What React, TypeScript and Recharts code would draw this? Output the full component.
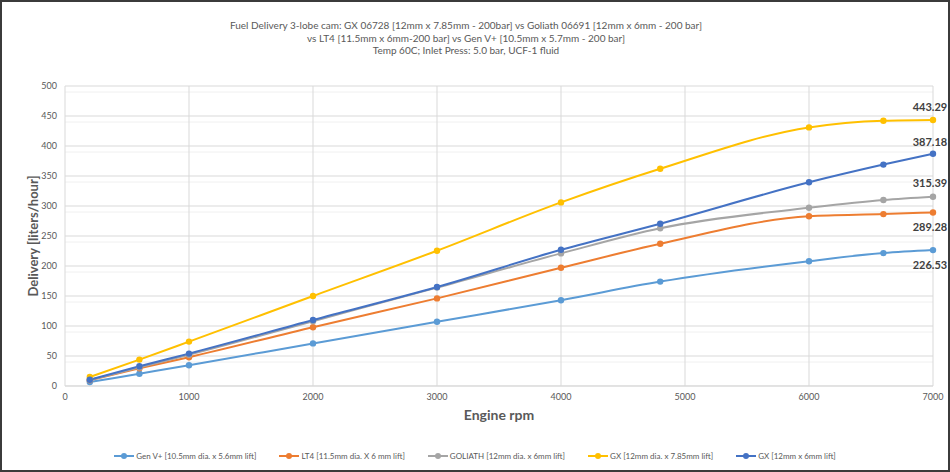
import React from 'react';
import { LineChart, Line, XAxis, YAxis, CartesianGrid } from 'recharts';

const rpm = [200, 600, 1000, 2000, 3000, 4000, 4800, 6000, 6600, 7000];
const genV = [6.5, 20.5, 34.5, 71, 107, 143, 174, 208, 221.5, 226.53];
const lt4 = [9.5, 29.5, 48, 98, 146, 197, 237, 283, 286.5, 289.28];
const goliath = [10, 31, 52, 108, 164, 221, 263, 297, 310, 315.39];
const gx785 = [15, 44, 74, 150, 225.5, 306, 362, 431, 442, 443.29];
const gx6 = [10.5, 33, 54, 110, 165, 227, 270.5, 339.5, 369, 387.18];

const xTicks = [0, 1000, 2000, 3000, 4000, 5000, 6000, 7000];
const yTicks = [0, 50, 100, 150, 200, 250, 300, 350, 400, 450, 500];
const minorY = Array.from({ length: 49 }, (_, i) => (i + 1) * 10).filter((v) => v % 50 !== 0);

const titleLines = [
  'Fuel Delivery 3-lobe cam: GX 06728 [12mm x 7.85mm - 200bar] vs Goliath 06691 [12mm x 6mm - 200 bar]',
  'vs LT4 [11.5mm x 6mm-200 bar] vs Gen V+ [10.5mm x 5.7mm - 200 bar]',
  'Temp 60C; Inlet Press: 5.0 bar, UCF-1 fluid',
];

const series = [
  { key: 'genV', name: 'Gen V+ [10.5mm dia. x 5.6mm lift]', color: '#5B9BD5', values: genV, labelDy: 14 },
  { key: 'lt4', name: 'LT4 [11.5mm dia. X 6 mm lift]', color: '#ED7D31', values: lt4, labelDy: 14 },
  { key: 'goliath', name: 'GOLIATH [12mm dia. x 6mm lift]', color: '#A5A5A5', values: goliath, labelDy: -14 },
  { key: 'gx785', name: 'GX [12mm dia. x 7.85mm lift]', color: '#FFC000', values: gx785, labelDy: -14 },
  { key: 'gx6', name: 'GX [12mm x 6mm lift]', color: '#4472C4', values: gx6, labelDy: -12 },
];

const data = rpm.map((r, i) => {
  const row: Record<string, number> = { rpm: r };
  series.forEach((s) => {
    row[s.key] = s.values[i];
  });
  return row;
});

const FONT = 'Lato, "Open Sans", sans-serif';

const makeLabel = (dy: number) => (props: any) => {
  const { x, y, index, value } = props;
  if (index !== rpm.length - 1) return null;
  return (
    <text
      x={x - 3}
      y={y + dy}
      textAnchor="middle"
      dominantBaseline="central"
      fontFamily={FONT}
      fontWeight={700}
      fontSize={11}
      fill="#404040"
    >
      {Number(value).toFixed(2)}
    </text>
  );
};

export default function App() {
  return (
    <div style={{ position: 'absolute', left: 0, top: 0, width: 950, height: 472, background: '#fff', fontFamily: FONT }}>
      <div
        style={{
          position: 'absolute',
          left: 0,
          top: 19,
          width: 932,
          textAlign: 'center',
          fontSize: 10,
          lineHeight: '12.5px',
          color: '#595959',
        }}
      >
        {titleLines.map((t) => (
          <div key={t}>{t}</div>
        ))}
      </div>
      <LineChart width={950} height={472} data={data} margin={{ top: 86, right: 17, bottom: 62, left: 0 }}>
        <CartesianGrid horizontalValues={minorY} vertical={false} stroke="#f0f0f0" strokeWidth={1} />
        <CartesianGrid stroke="#d9d9d9" strokeWidth={1} />
        <XAxis
          dataKey="rpm"
          type="number"
          domain={[0, 7000]}
          ticks={xTicks}
          height={24}
          axisLine={{ stroke: '#d9d9d9' }}
          tickLine={false}
          tick={{ fill: '#595959', fontSize: 9, fontFamily: FONT }}
        />
        <YAxis
          type="number"
          domain={[0, 500]}
          ticks={yTicks}
          width={65}
          axisLine={false}
          tickLine={false}
          tick={{ fill: '#595959', fontSize: 9, fontFamily: FONT }}
        />
        {series.map((s) => (
          <Line
            key={s.key}
            dataKey={s.key}
            name={s.name}
            type="monotone"
            stroke={s.color}
            strokeWidth={2}
            dot={{ r: 3.2, fill: s.color, stroke: s.color, strokeWidth: 0 }}
            activeDot={false}
            isAnimationActive={false}
            label={makeLabel(s.labelDy)}
          />
        ))}
      </LineChart>
      <div
        style={{
          position: 'absolute',
          left: 8,
          top: 236,
          transform: 'translate(-50%, -50%) rotate(-90deg)',
          marginLeft: 25,
          whiteSpace: 'nowrap',
          fontWeight: 700,
          fontSize: 13,
          color: '#595959',
        }}
      >
        Delivery [liters/hour]
      </div>
      <div
        style={{
          position: 'absolute',
          left: 65,
          width: 868,
          top: 405,
          textAlign: 'center',
          fontWeight: 700,
          fontSize: 14,
          lineHeight: '20px',
          color: '#595959',
        }}
      >
        Engine rpm
      </div>
      <div
        style={{
          position: 'absolute',
          left: 0,
          top: 450,
          width: 950,
          display: 'flex',
          justifyContent: 'center',
          gap: 23,
          fontSize: 8,
          lineHeight: '12px',
          color: '#595959',
        }}
      >
        {series.map((s) => (
          <div key={s.key} style={{ display: 'flex', alignItems: 'center', gap: 2 }}>
            <svg width={20} height={8}>
              <line x1={0} y1={4} x2={20} y2={4} stroke={s.color} strokeWidth={2} />
              <circle cx={10} cy={4} r={3} fill={s.color} />
            </svg>
            <span style={{ whiteSpace: 'nowrap' }}>{s.name}</span>
          </div>
        ))}
      </div>
      <div
        style={{
          position: 'absolute',
          left: 0,
          top: 0,
          width: 950,
          height: 472,
          boxSizing: 'border-box',
          border: '2px solid #3b3b3b',
          pointerEvents: 'none',
        }}
      />
    </div>
  );
}
